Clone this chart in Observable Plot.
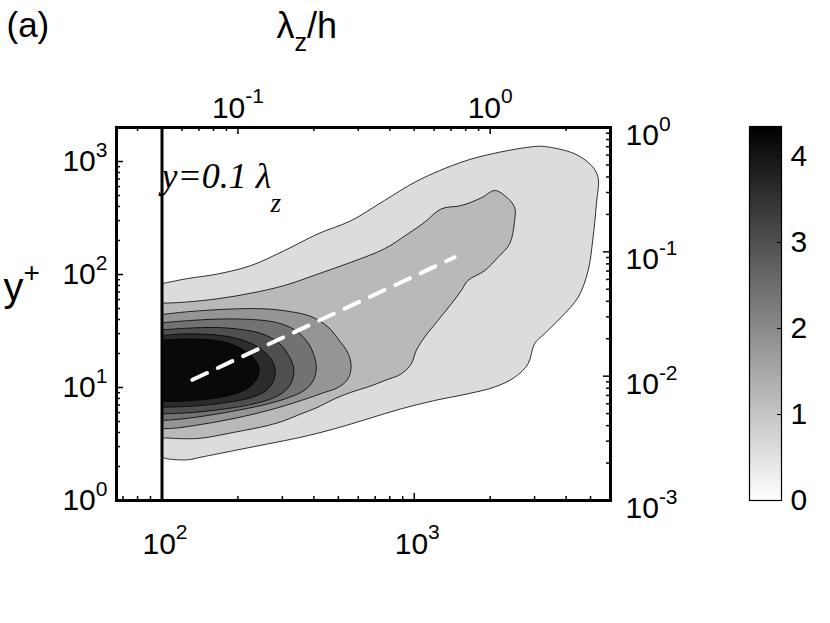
<!DOCTYPE html>
<html><head><meta charset="utf-8">
<script src="https://cdn.jsdelivr.net/npm/d3@7"></script>
<script src="https://cdn.jsdelivr.net/npm/@observablehq/plot@0.6"></script>
<style>
body{margin:0;background:#fff;}
#wrap{position:relative;width:830px;height:623px;overflow:hidden;}
#wrap svg{position:absolute;top:0;}
</style></head><body><div id="wrap"></div>
<script>
// ---------- data ----------
// contour levels (value of the premultiplied spectrum), lowest first
const levels = [0.6, 1.2, 1.8, 2.4, 3.0, 3.6, 4.2];
// closed contour outlines: [lambda_z^+, y^+]
const contour06 = [[100,83],[126,92],[166,101],[225,120],[306,163],[415,229],[562,300],[762,452],[1035,679],[1537,986],[2083,1184],[3000,1358],[3289,1358],[4328,1170],[5040,922],[5355,726],[5276,422],[5118,214],[4890,108],[4467,63],[3830,42],[3289,30],[3000,24.4],[2826,16.2],[2500,12.3],[2083,10.1],[1633,8.8],[1204,7.67],[888,6.48],[655,5.28],[483,4.31],[356,3.63],[263,3.17],[194,2.77],[143,2.42],[126,2.29],[105,2.34],[100,2.42]];
const contour12 = [[100,55.7],[123,56.9],[166,61],[225,68.3],[306,80],[415,101],[562,128.5],[762,169],[944,229],[1099,290],[1280,381],[1537,408],[1845,477],[2083,554],[2282,500],[2500,394],[2500,300],[2390,187],[2148,142],[1901,108],[1633,88.5],[1537,72.2],[1403,55],[1242,39.2],[1099,27.9],[1018,21.2],[973,16.2],[888,13.2],[762,11.5],[655,10.1],[562,9.08],[483,7.94],[415,6.69],[356,5.85],[306,5.1],[263,4.61],[194,4.02],[143,3.56],[123,3.52],[100,3.59]];
const contour18 = [[100,44.3],[130,47.1],[188,49.5],[254,49.7],[316,47.3],[390,42.5],[456,34.2],[504,26.1],[547,20],[562,15.7],[547,12],[499,10],[440,9.03],[356,7.67],[263,6.26],[193,5.32],[143,4.71],[114,4.38],[100,4.31]];
const contour24 = [[100,37.4],[130,39.2],[172,40.4],[226,40],[284,37.6],[334,32.6],[373,26.1],[398,20],[409,15],[398,11.5],[366,9.41],[311,8],[247,6.93],[188,6.13],[143,5.54],[114,5.21],[100,5.1]];
const contour30 = [[100,32.4],[130,33.6],[164,34],[206,32.6],[247,30.1],[286,25.5],[313,20.4],[331,15.7],[333,13.6],[325,10.9],[302,9.03],[266,7.83],[215,6.93],[164,6.32],[124.5,5.95],[100,5.85]];
const contour36 = [[100,28.9],[124.5,29.8],[156.5,29.4],[191,27.7],[226,24.5],[254,20.8],[273,17.3],[281,14.1],[276,11.3],[259,9.41],[226,8.15],[180,7.36],[136,6.86],[100,6.69]];
const contour42 = [[100,26.3],[124.5,26.9],[149.5,26.6],[180,25],[206,22.1],[228,18.8],[240,16],[243,14.1],[238,12],[224,10.2],[197,8.85],[159,8],[124.5,7.6],[100,7.52]];
// dashed white line (end points) and vertical reference line
const dashLambda = [132, 1445];
const dashYplus = [11.7, 142];
const refLambda = 100;
// axes
const xDomain = [66, 6000];     // lambda_z^+
const yDomain = [1, 2000];      // y^+
const hPlus = 2000;             // lambda_z/h = lambda_z^+ / h^+
const rightRange = [0.001, 1];  // right axis range
const xTicks = [100, 1000];
const topTicks = [0.1, 1];
const yTicks = [1, 10, 100, 1000];
const rightTicks = [0.001, 0.01, 0.1, 1];
const cbTicks = [0, 1, 2, 3, 4];
const cbMax = 4.35;
const panelLabel = "(a)";
const xTitle = "λ_{z}/h";
const yTitle = "y^{+}";
const annoMain = "y=0.1 λ";
const annoSub = "z";

// ---------- build ----------
const contourSets = [contour06, contour12, contour18, contour24, contour30, contour36, contour42];
const contourData = contourSets.flatMap((pts, i) => pts.map(([x, y]) => ({x, y, level: levels[i]})));
const dashData = dashLambda.map((x, i) => ({x, y: dashYplus[i]}));

const W = 830, H = 623, mL = 116, mR = 220, mT = 127, mB = 123;
const fw = W - mL - mR, fh = H - mT - mB;
const FONT = "Arial, 'Liberation Sans', sans-serif";
const SERIF = "'Times New Roman', 'Liberation Serif', serif";
const TF = 30;

function logTicks(lo, hi) {
  const out = [];
  for (let e = Math.floor(Math.log10(lo)) - 1; e <= Math.ceil(Math.log10(hi)); e++)
    for (let m = 1; m < 10; m++) {
      const v = m * Math.pow(10, e);
      if (v >= lo * 0.9999 && v <= hi * 1.0001) out.push({v, major: m === 1});
    }
  return out;
}
const yDec = Math.log10(yDomain[1] / yDomain[0]);
const rDec = Math.log10(rightRange[1] / rightRange[0]);
const rightToY = v => yDomain[0] * Math.pow(10, Math.log10(v / rightRange[0]) / rDec * yDec);
const exp = d => `10^{${Math.round(Math.log10(d))}}`;

const bt = logTicks(xDomain[0], xDomain[1]);
const tt = logTicks(xDomain[0] / hPlus, xDomain[1] / hPlus).map(d => ({v: d.v * hPlus, major: d.major}));
const lt = logTicks(yDomain[0], yDomain[1]);
const rt = logTicks(rightRange[0], rightRange[1]).map(d => ({v: rightToY(d.v), major: d.major}));
const MAJ = 7, MIN = 4;

const colorScale = {type: "linear", domain: [0, cbMax], range: ["#ffffff", "#000000"], interpolate: "rgb"};

const main = Plot.plot({
  width: W, height: H, marginLeft: mL, marginRight: mR, marginTop: mT, marginBottom: mB,
  style: {fontFamily: FONT, background: "transparent", color: "black"},
  x: {type: "log", domain: xDomain, axis: null},
  y: {type: "log", domain: yDomain, axis: null},
  color: colorScale,
  marks: [
    Plot.line(contourData, {x: "x", y: "y", z: "level", fill: "level", stroke: "black", strokeWidth: 0.8, curve: "catmull-rom"}),
    Plot.line(dashData, {x: "x", y: "y", stroke: "white", strokeWidth: 4, strokeDasharray: "16,12"}),
    Plot.ruleX([refLambda], {stroke: "black", strokeWidth: 3}),
    // inward ticks
    Plot.ruleX(bt.filter(d => d.major), {x: "v", insetTop: fh - MAJ, strokeWidth: 1.5}),
    Plot.ruleX(bt.filter(d => !d.major), {x: "v", insetTop: fh - MIN, strokeWidth: 1.5}),
    Plot.ruleX(tt.filter(d => d.major), {x: "v", insetBottom: fh - MAJ, strokeWidth: 1.5}),
    Plot.ruleX(tt.filter(d => !d.major), {x: "v", insetBottom: fh - MIN, strokeWidth: 1.5}),
    Plot.ruleY(lt.filter(d => d.major), {y: "v", insetRight: fw - MAJ, strokeWidth: 1.5}),
    Plot.ruleY(lt.filter(d => !d.major), {y: "v", insetRight: fw - MIN, strokeWidth: 1.5}),
    Plot.ruleY(rt.filter(d => d.major), {y: "v", insetLeft: fw - MAJ, strokeWidth: 1.5}),
    Plot.ruleY(rt.filter(d => !d.major), {y: "v", insetLeft: fw - MIN, strokeWidth: 1.5}),
    Plot.frame({stroke: "black", strokeWidth: 3}),
    // tick labels
    Plot.text(xTicks, {x: d => d, frameAnchor: "bottom", dx: 3, dy: 53, lineAnchor: "bottom", text: exp, fontSize: TF}),
    Plot.text(topTicks, {x: d => d * hPlus, frameAnchor: "top", dy: -10, lineAnchor: "bottom", text: exp, fontSize: TF}),
    Plot.text(yTicks, {y: d => d, frameAnchor: "left", dx: -9, textAnchor: "end", lineAnchor: "middle", text: exp, fontSize: TF}),
    Plot.text(rightTicks, {y: d => rightToY(d), frameAnchor: "right", dx: 15, dy: 8, textAnchor: "start", lineAnchor: "middle", text: exp, fontSize: TF}),
    // titles
    Plot.text([panelLabel], {text: d => d, frameAnchor: "top-left", dx: 6 - mL, dy: 36 - mT, textAnchor: "start", lineAnchor: "bottom", fontSize: 35}),
    Plot.text([xTitle], {text: d => d, frameAnchor: "top-left", dx: 276 - mL, dy: 37 - mT, textAnchor: "start", lineAnchor: "bottom", fontSize: 36}),
    Plot.text([yTitle], {text: d => d, frameAnchor: "top-left", dx: 3 - mL, dy: 300 - mT, textAnchor: "start", lineAnchor: "bottom", fontSize: 40}),
    Plot.text([annoMain], {text: d => d, frameAnchor: "top-left", dx: 161 - mL, dy: 187 - mT, textAnchor: "start", lineAnchor: "bottom", fontSize: 36, fontStyle: "italic", fontFamily: SERIF}),
    Plot.text([annoSub], {text: d => d, frameAnchor: "top-left", dx: 270 - mL, dy: 211 - mT, textAnchor: "start", lineAnchor: "bottom", fontSize: 27, fontStyle: "italic", fontFamily: SERIF})
  ]
});

// colorbar
const cbW = 130, cbL = 49, cbBar = 32;
const cbar = Plot.plot({
  width: cbW, height: H, marginLeft: cbL, marginRight: cbW - cbL - cbBar, marginTop: 126, marginBottom: 123,
  style: {fontFamily: FONT, background: "transparent", color: "black"},
  x: {domain: [0, 1], axis: null},
  y: {domain: [0, cbMax], axis: null},
  marks: [
    Plot.rect([cbMax], {x1: 0, x2: 1, y1: 0, y2: d => d, fill: "#808080"}),
    Plot.ruleY(cbTicks, {y: d => d, insetLeft: cbBar - 4, strokeWidth: 1}),
    Plot.frame({stroke: "black", strokeWidth: 1.2}),
    Plot.text(cbTicks, {y: d => d, text: d => String(d), frameAnchor: "right", dx: 9, textAnchor: "start", lineAnchor: "middle", fontSize: TF})
  ]
});

const NS = "http://www.w3.org/2000/svg";
// gradient for the colour bar, from the same white→black ramp
{
  const defs = document.createElementNS(NS, "defs");
  const g = document.createElementNS(NS, "linearGradient");
  g.setAttribute("id", "cbgrad");
  g.setAttribute("x1", "0"); g.setAttribute("y1", "1"); g.setAttribute("x2", "0"); g.setAttribute("y2", "0");
  colorScale.range.forEach((c, i) => {
    const s = document.createElementNS(NS, "stop");
    s.setAttribute("offset", String(i / (colorScale.range.length - 1)));
    s.setAttribute("stop-color", c);
    g.appendChild(s);
  });
  defs.appendChild(g);
  cbar.insertBefore(defs, cbar.firstChild);
  const r = cbar.querySelector('g[aria-label="rect"] rect');
  if (r) r.setAttribute("fill", "url(#cbgrad)");
}

const wrap = document.getElementById("wrap");
main.style.left = "0px";
cbar.style.left = "700px";
wrap.appendChild(main);
wrap.appendChild(cbar);

// rich text: ^{..} superscript, _{..} subscript
function richify(svg) {
  svg.querySelectorAll("text").forEach(t => {
    const s = t.textContent;
    if (!/[\^_]\{/.test(s)) return;
    const fs = parseFloat(getComputedStyle(t).fontSize) || TF;
    while (t.firstChild) t.removeChild(t.firstChild);
    const re = /([\^_])\{([^}]*)\}|([^\^_]+)/g;
    let m, cur = 0;
    while ((m = re.exec(s))) {
      const sp = document.createElementNS(NS, "tspan");
      if (m[3] !== undefined) {
        sp.textContent = m[3];
        if (cur) sp.setAttribute("dy", -cur);
        cur = 0;
      } else {
        const off = m[1] === "^" ? -0.47 * fs : 0.38 * fs;
        sp.textContent = m[2];
        sp.setAttribute("font-size", 0.7 * fs);
        sp.setAttribute("dy", off - cur);
        cur = off;
      }
      t.appendChild(sp);
    }
  });
}
richify(main);
richify(cbar);
</script>
</body></html>
